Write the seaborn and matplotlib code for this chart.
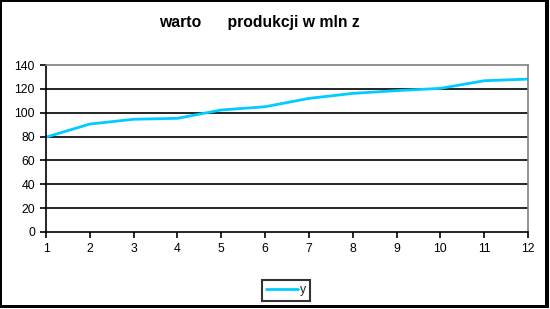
import matplotlib
matplotlib.use("Agg")
import matplotlib.pyplot as plt
import seaborn as sns
import pandas as pd
from matplotlib.patches import Rectangle

x_vals = [1, 2, 3, 4, 5, 6, 7, 8, 9, 10, 11, 12]
y_vals = [79.5, 90.5, 94.5, 95.3, 102.3, 105, 112, 116.2, 118.5, 120.4, 126.8, 128.2]
y_ticks = [0, 20, 40, 60, 80, 100, 120, 140]
title = "warto      produkcji w mln z"
series_name = "y"

sns.set_theme(style="white")
plt.rcParams['font.family'] = ['Liberation Sans', 'DejaVu Sans']

df = pd.DataFrame({"x": x_vals, "y": y_vals})

W, H = 550, 309
fig = plt.figure(figsize=(W/100, H/100), dpi=100)
ax = fig.add_axes([46/W, 1-232/H, (528-46)/W, (232-65)/H])

sns.lineplot(data=df, x="x", y="y", ax=ax, color="#00CCFF", linewidth=2.0,
             label=series_name, legend=False)

ax.set_xlim(1, 12)
ax.set_ylim(0, 140)
ax.set_xticks(x_vals)
ax.set_yticks(y_ticks)
ax.set_xticklabels([str(v) for v in x_vals], fontsize=8.8, color="black")
ax.set_yticklabels([str(v) for v in y_ticks], fontsize=8.8, color="black")
ax.set_xlabel("")
ax.set_ylabel("")

for yv in y_ticks[1:-1]:
    ax.axhline(yv, color="black", linewidth=1.2, zorder=1)

for s in ["top", "right"]:
    ax.spines[s].set_visible(True)
    ax.spines[s].set_color("#808080")
    ax.spines[s].set_linewidth(1.2)
for s in ["left", "bottom"]:
    ax.spines[s].set_color("black")
    ax.spines[s].set_linewidth(1.2)

ax.tick_params(axis="both", which="major", direction="out", length=4, width=1.2,
               color="black", pad=4, left=True, bottom=True)

fig.text(259/W, 1-23/H, title, ha="center", va="center", fontsize=11.3,
         fontweight="bold", color="black")

leg = fig.legend(handles=ax.get_lines()[:1], labels=[series_name],
                 loc="center", bbox_to_anchor=(286/W, 1-290.5/H),
                 frameon=True, fancybox=False, fontsize=8.8, handlelength=2.6,
                 handletextpad=0.2, borderpad=0.35, borderaxespad=0)
leg.get_frame().set_edgecolor("black")
leg.get_frame().set_linewidth(1.5)

def px_rect(x0, y0, x1, y1):
    fig.patches.append(Rectangle((x0/W, 1-y1/H), (x1-x0)/W, (y1-y0)/H,
                                 transform=fig.transFigure, facecolor="black",
                                 edgecolor="none"))

px_rect(0, 0, 2, 308)      # left
px_rect(0, 0, 549, 2)      # top
px_rect(545, 0, 549, 308)  # right
px_rect(0, 305, 549, 308)  # bottom

fig.savefig("out.png", dpi=100)
